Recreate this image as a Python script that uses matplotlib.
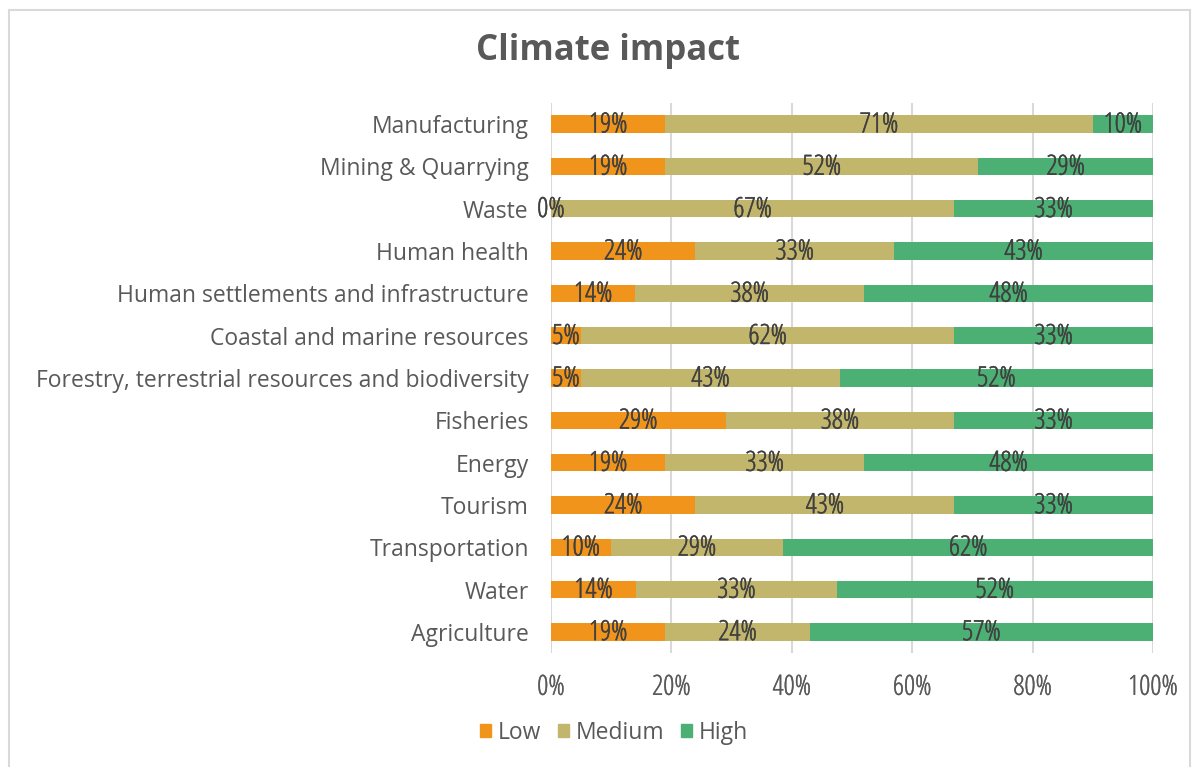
import matplotlib
matplotlib.use("Agg")
import matplotlib.pyplot as plt
import matplotlib.patheffects as pe
from matplotlib.patches import Rectangle, Patch
import numpy as np

plt.rcParams['font.family'] = ['Open Sans', 'DejaVu Sans']

sectors = [
    "Manufacturing",
    "Mining & Quarrying",
    "Waste",
    "Human health",
    "Human settlements and infrastructure",
    "Coastal and marine resources",
    "Forestry, terrestrial resources and biodiversity",
    "Fisheries",
    "Energy",
    "Tourism",
    "Transportation",
    "Water",
    "Agriculture",
]
low = [19, 19, 0, 24, 14, 5, 5, 29, 19, 24, 10, 14, 19]
medium = [71, 52, 67, 33, 38, 62, 43, 38, 33, 43, 29, 33, 24]
high = [10, 29, 33, 43, 48, 33, 52, 33, 48, 33, 62, 52, 57]

series = [("Low", low, "#F0941C"), ("Medium", medium, "#C2B56C"), ("High", high, "#4CAF73")]
text_grey = "#595959"
label_dark = "#404040"

# the condensed face is a light cut, so give it a thin outline of its own colour
def thicken(color, width=0.35):
    return [pe.withStroke(linewidth=width, foreground=color)]

fig = plt.figure(figsize=(12.01, 7.67), dpi=100)
fig.patches.append(Rectangle((9 / 1201, -0.05), 1181 / 1201, 1.05 - 10 / 767,
                             transform=fig.transFigure, fill=False,
                             edgecolor="#D9D9D9", linewidth=1.5))

ax = fig.add_axes([551 / 1201, 1 - 653 / 767, 602 / 1201, 550 / 767])

# 100% stacked: each row is scaled by its own total
totals = np.array(low) + np.array(medium) + np.array(high)
y = np.arange(len(sectors))
left = np.zeros(len(sectors))
for name, vals, color in series:
    share = np.array(vals) / totals * 100
    ax.barh(y, share, left=left, height=0.41, color=color, label=name, zorder=2)
    for yi, l, s, v in zip(y, left, share, vals):
        ax.text(l + s / 2, yi + 0.03, f"{v}%", ha="center", va="center",
                fontsize=20, color=label_dark, fontstretch="condensed",
                path_effects=thicken(label_dark), zorder=3)
    left += share

ax.set_xlim(0, 100)
ax.set_ylim(len(sectors) - 0.5, -0.5)
ax.set_xticks(np.arange(0, 101, 20))
ax.set_xticklabels([f"{t}%" for t in range(0, 101, 20)], fontstretch="condensed", fontsize=20,
                   path_effects=thicken(text_grey, 0.25))
ax.set_yticks(y)
ax.set_yticklabels(sectors, fontsize=16.5)
ax.tick_params(axis="both", length=0, colors=text_grey)
ax.tick_params(axis="x", pad=15)
ax.tick_params(axis="y", pad=16)
ax.grid(axis="x", color="#D9D9D9", linewidth=1.5, zorder=0)
for s in ax.spines.values():
    s.set_visible(False)

fig.text(608 / 1201, 1 - 51 / 767, "Climate impact", ha="center", va="center",
         fontsize=25, fontweight="bold", color=text_grey)

handles = [Patch(color=c, label=n) for n, _, c in series]
fig.legend(handles=handles, loc="center", bbox_to_anchor=(614 / 1201, 1 - 733 / 767),
           ncol=3, frameon=False, fontsize=16.5, labelcolor=text_grey,
           handlelength=0.5, handleheight=0.5, handletextpad=0.3, columnspacing=0.7)

fig.savefig("out.png", dpi=100)
